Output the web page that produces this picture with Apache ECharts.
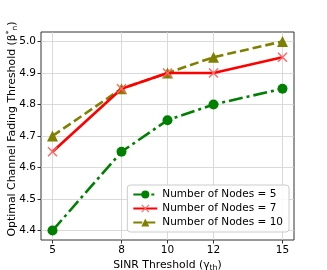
<!DOCTYPE html>
<html><head><meta charset="utf-8">
<script src="https://cdn.jsdelivr.net/npm/echarts@6/dist/echarts.min.js"></script>
<style>html,body{margin:0;padding:0;background:#fff}#c{width:327px;height:270px}</style>
</head><body><div id="c"></div>
<script>
const xValues = [5, 8, 10, 12, 15];
const nodes5 = [4.40, 4.65, 4.75, 4.80, 4.85];
const nodes7 = [4.65, 4.85, 4.90, 4.90, 4.95];
const nodes10 = [4.70, 4.85, 4.90, 4.95, 5.00];
const yTicks = [4.4, 4.5, 4.6, 4.7, 4.8, 4.9, 5.0];
const seriesNames = ['Number of Nodes = 5', 'Number of Nodes = 7', 'Number of Nodes = 10'];

const pairs = a => xValues.map((x, i) => [x, a[i]]);
const font = 'DejaVu Sans';
const chart = echarts.init(document.getElementById('c'), null, {renderer: 'canvas'});
chart.setOption({
  animation: false,
  textStyle: {fontFamily: font},
  grid: {left: 41, right: 33, top: 32, bottom: 30, show: true, borderColor: '#333', borderWidth: 1, containLabel: false, outerBoundsMode: 'none'},
  xAxis: {
    type: 'value', min: 4.5, max: 15.5,
    name: 'SINR Threshold (γ{sub|th})', nameLocation: 'middle', nameGap: 18, nameMoveOverlap: false,
    nameTextStyle: {fontFamily: font, fontSize: 10.8, color: '#000', rich: {sub: {fontSize: 7.8, fontFamily: font, color: '#000', padding: [6, 0, 0, 0]}}},
    axisLine: {show: false},
    axisTick: {show: true, inside: false, length: 3.5, lineStyle: {color: '#333'}, customValues: xValues},
    axisLabel: {customValues: xValues, color: '#000', fontSize: 10.5, fontFamily: font, margin: 5},
    splitLine: {show: true, lineStyle: {color: '#d0d0d0', width: 0.8}}
  },
  yAxis: {
    type: 'value', min: 4.37, max: 5.03,
    name: 'Optimal Channel Fading Threshold (β{sup|*}{sub|n})', nameLocation: 'middle', nameGap: 22, nameRotate: 90, nameMoveOverlap: false,
    nameTextStyle: {fontFamily: font, fontSize: 10.9, color: '#000', padding: [0, 0, 0, 14], rich: {sub: {fontSize: 7.5, fontFamily: font, color: '#000', padding: [6, 0, 0, 0]}, sup: {fontSize: 7.5, fontFamily: font, color: '#000', padding: [0, 0, 6, 0]}}},
    axisLine: {show: false},
    axisTick: {show: true, inside: false, length: 3.5, lineStyle: {color: '#333'}, customValues: yTicks},
    axisLabel: {customValues: yTicks, color: '#000', fontSize: 10.5, fontFamily: font, margin: 5, formatter: v => v.toFixed(1)},
    splitLine: {show: true, lineStyle: {color: '#d0d0d0', width: 0.8}}
  },
  legend: {
    right: 38, bottom: 38, orient: 'vertical', itemGap: 3, itemWidth: 24, itemHeight: 10,
    backgroundColor: 'rgba(255,255,255,0.85)', borderColor: '#ccc', borderWidth: 1, borderRadius: 3, padding: [4, 6, 4, 5],
    textStyle: {fontSize: 10.5, fontFamily: font, color: '#000', padding: [0, 0, 0, 0]},
    data: seriesNames
  },
  series: [
    {name: seriesNames[0], type: 'line', data: pairs(nodes5), symbol: 'circle', symbolSize: 10,
     itemStyle: {color: '#008000'}, lineStyle: {color: '#008000', width: 2.6, type: [14, 4, 3, 4]}, z: 3},
    {name: seriesNames[1], type: 'line', data: pairs(nodes7),
     symbol: 'path://M-1,-1.25L0,-0.25L1,-1.25L1.25,-1L0.25,0L1.25,1L1,1.25L0,0.25L-1,1.25L-1.25,1L-0.25,0L-1.25,-1Z', symbolSize: 10,
     itemStyle: {color: '#ff6666'}, lineStyle: {color: '#ff0000', width: 2.6}, z: 4},
    {name: seriesNames[2], type: 'line', data: pairs(nodes10), symbol: 'triangle', symbolSize: 11,
     itemStyle: {color: '#808000'}, lineStyle: {color: '#808000', width: 2.6, type: [9, 4]}, z: 2}
  ]
});
</script></body></html>
